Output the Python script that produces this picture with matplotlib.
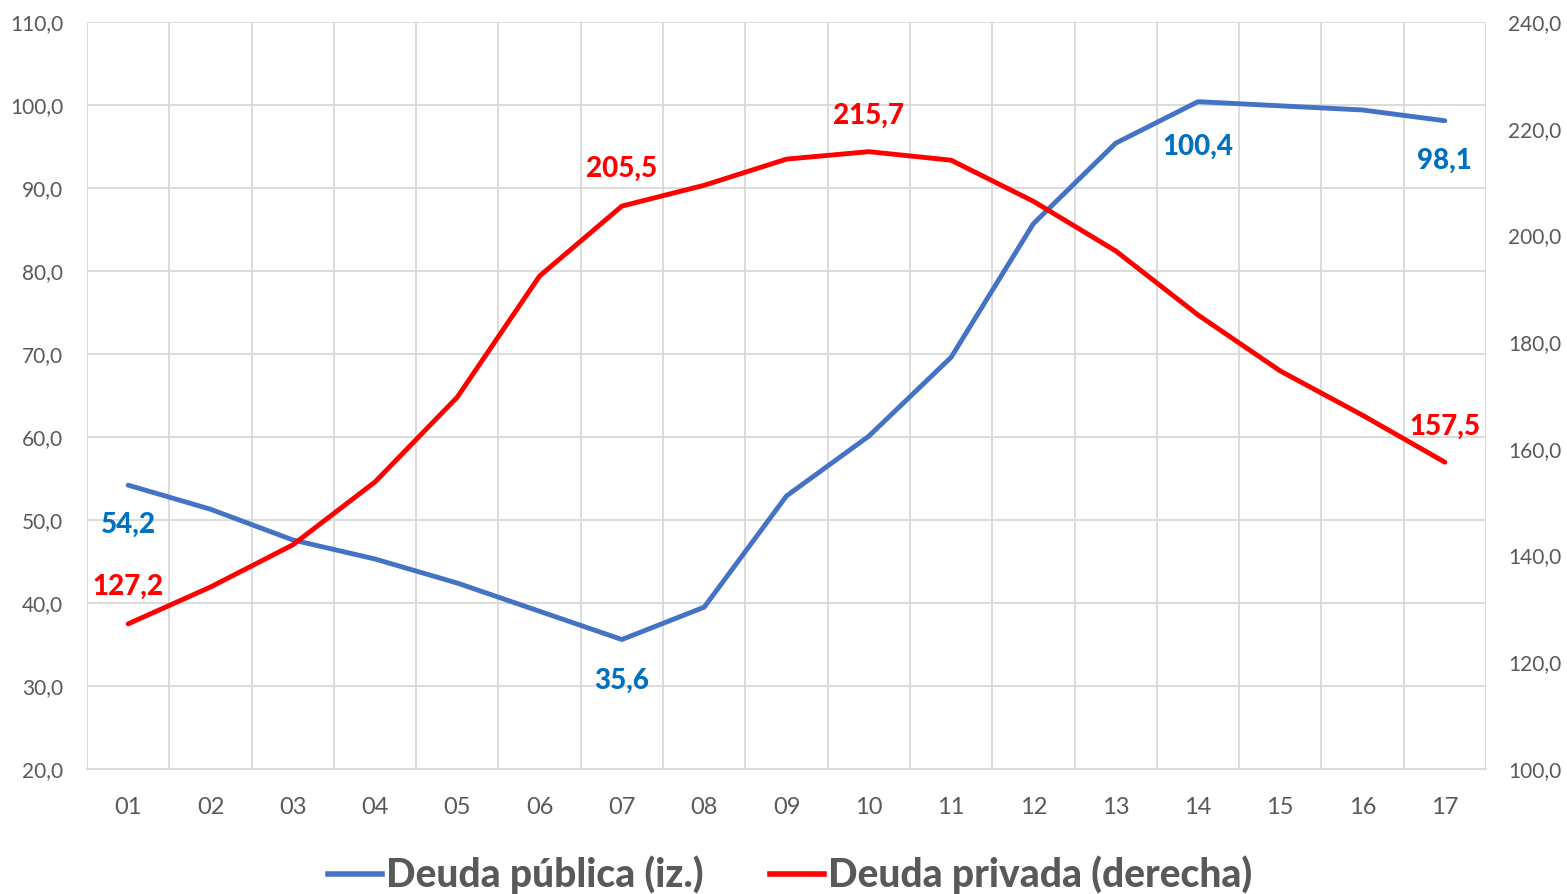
import numpy as np
import matplotlib
matplotlib.use("Agg")
import matplotlib.pyplot as plt
from matplotlib.lines import Line2D

# data
years = ["01", "02", "03", "04", "05", "06", "07", "08", "09",
         "10", "11", "12", "13", "14", "15", "16", "17"]
deuda_publica = [54.2, 51.3, 47.6, 45.3, 42.4, 39.0, 35.6, 39.5, 52.9,
                 60.1, 69.6, 85.7, 95.4, 100.4, 99.9, 99.4, 98.1]
deuda_privada = [127.2, 134.1, 142.0, 153.8, 169.7, 192.4, 205.5, 209.4, 214.3,
                 215.7, 214.1, 206.4, 197.1, 185.1, 174.6, 166.3, 157.5]
left_ticks = np.arange(20, 111, 10)
right_ticks = np.arange(100, 241, 20)

# which points get a value label, and offset in pixels (negative = below)
pub_labels = {0: -40, 6: -41, 13: -45, 16: -40}
priv_labels = {0: 37, 6: 37, 9: 36, 16: 35}

blue = "#4472C4"
red = "#FF0000"
blue_txt = "#0070C0"
grey_txt = "#595959"
grid_col = "#D9D9D9"

plt.rcParams['font.family'] = ['Lato', 'DejaVu Sans']

fig = plt.figure(figsize=(15.67, 8.94), dpi=100)
ax = fig.add_axes([87/1567, 1-769/894, (1486-87)/1567, (769-22)/894])
ax2 = ax.twinx()

x = np.arange(1, len(years) + 1)

ax.plot(x, deuda_publica, color=blue, lw=3.5, solid_capstyle='round', zorder=3)
ax2.plot(x, deuda_privada, color=red, lw=3.5, solid_capstyle='round', zorder=3)

ax.set_xlim(0.5, len(years) + 0.5)
ax.set_ylim(20, 110)
ax2.set_ylim(100, 240)
ax.set_yticks(left_ticks)
ax.set_yticklabels([f"{v:.1f}".replace(".", ",") for v in left_ticks])
ax2.set_yticks(right_ticks)
ax2.set_yticklabels([f"{v:.1f}".replace(".", ",") for v in right_ticks])
ax.set_xticks(x)
ax.set_xticklabels(years)

# vertical grid sits between categories
ax.set_xticks(np.arange(0.5, len(years) + 1, 1), minor=True)
ax.grid(True, which='minor', axis='x', color=grid_col, lw=1.3)
ax.grid(True, which='major', axis='y', color=grid_col, lw=1.3)
ax.set_axisbelow(True)

for a in (ax, ax2):
    for s in a.spines.values():
        s.set_visible(False)
    a.tick_params(length=0, which='both', labelsize=15, colors=grey_txt)
ax.spines['bottom'].set_visible(True)
ax.spines['bottom'].set_color(grid_col)
ax.spines['bottom'].set_linewidth(1.3)
ax.tick_params(axis='x', pad=20, labelsize=17)
ax.tick_params(axis='y', pad=17)
ax2.tick_params(axis='y', pad=16)

for i, off in pub_labels.items():
    ax.annotate(f"{deuda_publica[i]:.1f}".replace(".", ","), (x[i], deuda_publica[i]),
                xytext=(0, off * 0.72), textcoords='offset points',
                ha='center', va='center', fontsize=20, fontweight='black', color=blue_txt)
for i, off in priv_labels.items():
    ax2.annotate(f"{deuda_privada[i]:.1f}".replace(".", ","), (x[i], deuda_privada[i]),
                 xytext=(0, off * 0.72), textcoords='offset points',
                 ha='center', va='center', fontsize=20, fontweight='black', color=red)

handles = [Line2D([], [], color=blue, lw=4),
           Line2D([], [], color=red, lw=4)]
leg = fig.legend(handles, ["Deuda pública (iz.)", "Deuda privada (derecha)"],
                 loc='center', bbox_to_anchor=(790/1567, 1-875/894), ncol=2,
                 frameon=False, handlelength=1.4, handletextpad=0.1, columnspacing=1.7,
                 prop={'weight': 'black', 'size': 28})
for t in leg.get_texts():
    t.set_color(grey_txt)

fig.savefig("out.png", dpi=100)
